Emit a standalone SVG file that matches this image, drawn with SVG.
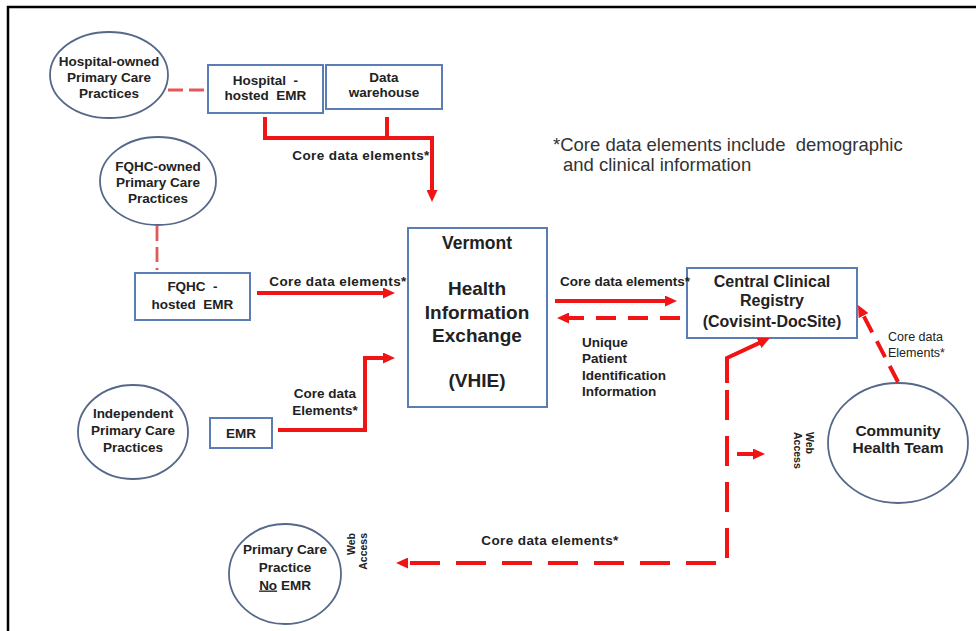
<svg xmlns="http://www.w3.org/2000/svg" width="976" height="631" viewBox="0 0 976 631">
<style>
text{font-family:"Liberation Sans",Arial,sans-serif;fill:#222;}
.b{font-weight:bold;}
.n{font-size:13.5px;font-weight:bold;text-anchor:middle;}
.lb{font-size:13.5px;font-weight:bold;}
.ls{letter-spacing:0.4px;}
.c{text-anchor:middle;}
.box{fill:#fff;stroke:#5a7db5;stroke-width:2;}
.ell{fill:#fff;stroke:#56688a;stroke-width:1.8;}
.red{fill:none;stroke:#f01414;stroke-width:4;}
.dash{stroke-dasharray:20 12;}
.pink{fill:none;stroke:#e45858;stroke-width:2.8;stroke-dasharray:15 6;}
.wa{font-size:10.5px;font-weight:bold;}
</style>
<defs>
<marker id="ah" markerUnits="userSpaceOnUse" markerWidth="12" markerHeight="11" refX="4" refY="5.5" orient="auto">
<path d="M0,0 L12,5.5 L0,11 z" fill="#f01414"/>
</marker>
</defs>
<rect width="976" height="631" fill="#fff"/>
<path d="M8,631 V7 H976" fill="none" stroke="#000" stroke-width="2.5"/>

<g id="note">
<text xml:space="preserve" x="553" y="151" style="font-size:18.5px;fill:#333">*Core data elements include  demographic</text>
<text x="563" y="171" style="font-size:18.5px;fill:#333">and clinical information</text>
</g>

<g id="hospital-owned">
<ellipse class="ell" cx="109" cy="75" rx="59" ry="43"/>
<text class="n" x="109" y="65.5">Hospital-owned</text>
<text class="n" x="109" y="81.5">Primary Care</text>
<text class="n" x="109" y="97.5">Practices</text>
</g>
<g id="hospital-emr">
<rect class="box" x="208" y="65" width="115" height="48"/>
<text class="n" xml:space="preserve" x="265.5" y="84.5">Hospital  -</text>
<text class="n" xml:space="preserve" x="265.5" y="99.5">hosted  EMR</text>
</g>
<g id="data-warehouse">
<rect class="box" x="326" y="65" width="116" height="44"/>
<text class="n" x="384" y="81.5">Data</text>
<text class="n" x="384" y="96.5">warehouse</text>
</g>
<g id="fqhc-owned">
<ellipse class="ell" cx="158" cy="181" rx="58" ry="44"/>
<text class="n" x="158" y="170.5">FQHC-owned</text>
<text class="n" x="158" y="186.5">Primary Care</text>
<text class="n" x="158" y="203">Practices</text>
</g>
<g id="fqhc-emr">
<rect class="box" x="135" y="273" width="115" height="47"/>
<text class="n" xml:space="preserve" x="192.5" y="290.5">FQHC  -</text>
<text class="n" xml:space="preserve" x="192.5" y="308.5">hosted  EMR</text>
</g>
<g id="independent">
<ellipse class="ell" cx="133" cy="432" rx="55" ry="47"/>
<text class="n" x="133" y="417.5">Independent</text>
<text class="n" x="133" y="434.5">Primary Care</text>
<text class="n" x="133" y="451.5">Practices</text>
</g>
<g id="emr">
<rect class="box" x="210" y="418" width="62" height="30"/>
<text class="n" x="241" y="437.5">EMR</text>
</g>
<g id="vhie">
<rect class="box" x="408" y="228" width="139" height="179"/>
<text class="b c" x="477" y="249" style="font-size:17.5px">Vermont</text>
<text class="b c" x="477" y="294.5" style="font-size:19px">Health</text>
<text class="b c" x="477" y="318.5" style="font-size:19px">Information</text>
<text class="b c" x="477" y="341.5" style="font-size:19px">Exchange</text>
<text class="b c" x="477" y="386.5" style="font-size:19px">(VHIE)</text>
</g>
<g id="ccr">
<rect class="box" x="687" y="268" width="170" height="70"/>
<text class="b c" x="772" y="287" style="font-size:16px">Central Clinical</text>
<text class="b c" x="772" y="306" style="font-size:16px">Registry</text>
<text class="b c" x="772" y="327" style="font-size:16px">(Covisint-DocSite)</text>
</g>
<g id="cht">
<ellipse class="ell" cx="898" cy="443" rx="70" ry="60"/>
<text class="b c" x="898" y="435.5" style="font-size:15.5px">Community</text>
<text class="b c" x="898" y="452.5" style="font-size:15.5px">Health Team</text>
</g>
<g id="no-emr">
<ellipse class="ell" cx="285" cy="574" rx="56" ry="50"/>
<text class="n" x="285" y="553.5">Primary Care</text>
<text class="n" x="285" y="571.5">Practice</text>
<text class="n" x="285" y="589.5"><tspan text-decoration="underline">No</tspan> EMR</text>
</g>

<g id="connectors">
<path class="pink" d="M168,90 H207"/>
<path class="pink" d="M157,226 V270"/>
<path class="red" d="M265,117 V138 H432 V194" marker-end="url(#ah)"/>
<path class="red" d="M387,117 V138"/>
<path class="red" d="M257,293 H387" marker-end="url(#ah)"/>
<path class="red" d="M278,430 H365 V358 H387" marker-end="url(#ah)"/>
<path class="red" d="M555,301 H669" marker-end="url(#ah)"/>
<path class="red dash" d="M680,318 H565" marker-end="url(#ah)"/>
<path class="red" d="M727,383 V358 L762.7,341.4" marker-end="url(#ah)"/>
<path class="red" style="stroke-dasharray:30 16" d="M727,390 V563 H404" marker-end="url(#ah)"/>
<path class="red" d="M737,454 H757" marker-end="url(#ah)"/>
<path class="red" style="stroke-dasharray:18 10" d="M898,382 L861.7,312.1" marker-end="url(#ah)"/>
<text class="lb c ls" x="361" y="159.5">Core data elements*</text>
<text class="lb c ls" x="338" y="285.5">Core data elements*</text>
<text class="lb c" x="325" y="397.5">Core data</text>
<text class="lb c" x="325" y="414.5">Elements*</text>
<text class="lb c" x="625" y="285.5">Core data elements*</text>
<text class="lb" x="582" y="346.5">Unique</text>
<text class="lb" x="582" y="363">Patient</text>
<text class="lb" x="582" y="379.5">Identification</text>
<text class="lb" x="582" y="396">Information</text>
<text x="888" y="341" style="font-size:12.5px">Core data</text>
<text x="888" y="357" style="font-size:12.5px">Elements*</text>
<text class="lb c ls" x="550" y="544.5">Core data elements*</text>
<text class="wa" transform="translate(806,432) rotate(90)">Web</text>
<text class="wa" transform="translate(794,432) rotate(90)">Access</text>
<text class="wa" style="text-anchor:end" transform="translate(355,533) rotate(-90)">Web</text>
<text class="wa" style="text-anchor:end" transform="translate(367,533) rotate(-90)">Access</text>
</g>
</svg>
